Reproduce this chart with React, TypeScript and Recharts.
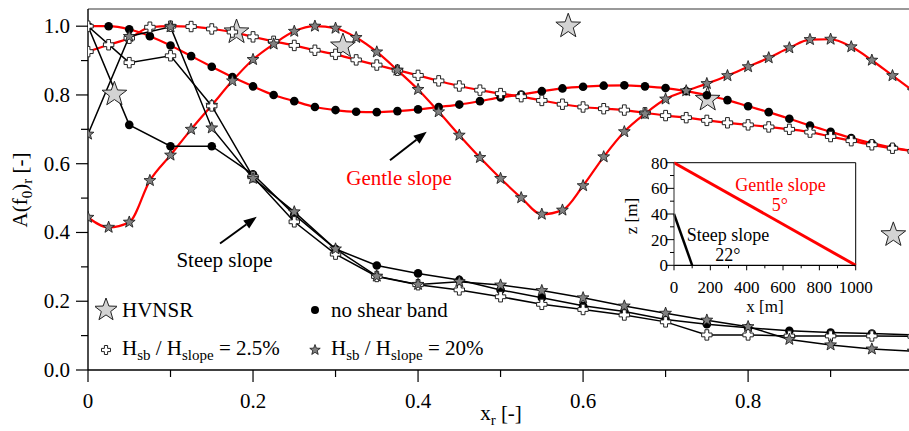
import React from 'react';
import {
  ComposedChart, LineChart, Line, Scatter, XAxis, YAxis,
  ReferenceLine, ReferenceDot, Legend,
} from 'recharts';

const FONT = '"Liberation Serif", "Times New Roman", serif';

// gentle slope runs, one marker every 0.025
const xGentle = [0, 0.025, 0.05, 0.075, 0.1, 0.125, 0.15, 0.175, 0.2, 0.225, 0.25, 0.275, 0.3, 0.325, 0.35, 0.375, 0.4, 0.425, 0.45, 0.475, 0.5, 0.525, 0.55, 0.575, 0.6, 0.625, 0.65, 0.675, 0.7, 0.725, 0.75, 0.775, 0.8, 0.825, 0.85, 0.875, 0.9, 0.925, 0.95, 0.975, 1.0];
const gentleNsb = [1.0, 1.0, 0.991, 0.971, 0.944, 0.913, 0.882, 0.852, 0.825, 0.800, 0.782, 0.765, 0.756, 0.751, 0.750, 0.753, 0.758, 0.765, 0.772, 0.782, 0.793, 0.801, 0.811, 0.819, 0.824, 0.827, 0.828, 0.825, 0.820, 0.811, 0.799, 0.785, 0.767, 0.750, 0.731, 0.711, 0.693, 0.675, 0.659, 0.647, 0.637];
const gentlePlus = [0.926, 0.946, 0.965, 0.997, 1.0, 0.999, 0.992, 0.983, 0.969, 0.956, 0.944, 0.930, 0.918, 0.902, 0.887, 0.872, 0.857, 0.841, 0.826, 0.814, 0.804, 0.795, 0.784, 0.773, 0.765, 0.760, 0.756, 0.748, 0.740, 0.734, 0.726, 0.719, 0.713, 0.707, 0.700, 0.692, 0.679, 0.667, 0.655, 0.645, 0.636];
const gentleStar = [0.444, 0.415, 0.430, 0.551, 0.625, 0.700, 0.770, 0.841, 0.903, 0.948, 0.985, 1.0, 0.994, 0.967, 0.925, 0.872, 0.816, 0.751, 0.683, 0.618, 0.557, 0.501, 0.453, 0.465, 0.536, 0.620, 0.693, 0.745, 0.788, 0.812, 0.833, 0.856, 0.882, 0.908, 0.937, 0.961, 0.962, 0.940, 0.901, 0.856, 0.812];

// steep slope runs, one marker every 0.05
const xSteep = [0, 0.05, 0.1, 0.15, 0.2, 0.25, 0.3, 0.35, 0.4, 0.45, 0.5, 0.55, 0.6, 0.65, 0.7, 0.75, 0.8, 0.85, 0.9, 0.95, 1.0];
const steepNsb = [1.0, 0.713, 0.651, 0.651, 0.569, 0.452, 0.352, 0.304, 0.281, 0.262, 0.233, 0.210, 0.187, 0.170, 0.147, 0.133, 0.123, 0.114, 0.109, 0.106, 0.102];
const steepPlus = [1.0, 0.894, 0.914, 0.768, 0.562, 0.431, 0.337, 0.272, 0.248, 0.233, 0.213, 0.191, 0.176, 0.160, 0.140, 0.102, 0.102, 0.099, 0.099, 0.099, 0.098];
const steepStar = [0.686, 0.970, 0.998, 0.704, 0.557, 0.460, 0.352, 0.273, 0.249, 0.257, 0.247, 0.231, 0.210, 0.186, 0.165, 0.145, 0.126, 0.089, 0.073, 0.061, 0.055];

// HVNSR measurements
const hvnsrX = [0.032, 0.180, 0.309, 0.582, 0.751, 0.976];
const hvnsrY = [0.802, 0.983, 0.942, 1.0, 0.787, 0.393];

const xTicks = [0, 0.1, 0.2, 0.3, 0.4, 0.5, 0.6, 0.7, 0.8, 0.9];
const yTicks = [0, 0.1, 0.2, 0.3, 0.4, 0.5, 0.6, 0.7, 0.8, 0.9, 1.0];

// inset: slope profiles
const profileX = [0, 1000];
const gentleProfileZ = [80, 0];
const steepProfileX = [0, 100];
const steepProfileZ = [40, 0];
const insetXTicks = [0, 100, 200, 300, 400, 500, 600, 700, 800, 900, 1000];
const insetYTicks = [0, 10, 20, 30, 40, 50, 60, 70, 80];

const pts = (xs: number[], ys: number[]) => xs.map((x, i) => ({ x, y: ys[i] }));

const starPath = (cx: number, cy: number, ro: number, ri: number) => {
  let d = '';
  for (let i = 0; i < 10; i++) {
    const r = i % 2 === 0 ? ro : ri;
    const a = -Math.PI / 2 + (i * Math.PI) / 5;
    d += (i === 0 ? 'M' : 'L') + (cx + r * Math.cos(a)).toFixed(2) + ',' + (cy + r * Math.sin(a)).toFixed(2);
  }
  return d + 'Z';
};

const plusPath = (cx: number, cy: number, a: number, b: number) =>
  `M${cx - b},${cy - a}H${cx + b}V${cy - b}H${cx + a}V${cy + b}H${cx + b}V${cy + a}H${cx - b}V${cy + b}H${cx - a}V${cy - b}H${cx - b}Z`;

const dotCircle = (p: any) => <circle key={`c${p.index}`} cx={p.cx} cy={p.cy} r={4.3} fill="#000" />;
const dotPlus = (p: any) => (
  <path key={`p${p.index}`} d={plusPath(p.cx, p.cy, 5.2, 1.9)} fill="#fff" stroke="#222" strokeWidth={1} />
);
const dotStar = (p: any) => (
  <path key={`s${p.index}`} d={starPath(p.cx, p.cy, 6.2, 2.6)} fill="#808080" stroke="#111" strokeWidth={0.8} />
);
const bigStar = (p: any) => <path d={starPath(p.cx, p.cy, 13, 5.3)} fill="#d3d3d3" stroke="#222" strokeWidth={1} />;

const Arrow = (p: any) => {
  const { x1, y1, x2, y2 } = p;
  const ang = Math.atan2(y2 - y1, x2 - x1);
  const L = 13;
  const W = 5;
  const bx = x2 - L * Math.cos(ang);
  const by = y2 - L * Math.sin(ang);
  const nx = -Math.sin(ang) * W;
  const ny = Math.cos(ang) * W;
  return (
    <g>
      <line x1={x1} y1={y1} x2={bx} y2={by} stroke="#000" strokeWidth={2} />
      <path d={`M${x2},${y2}L${bx + nx},${by + ny}L${bx - nx},${by - ny}Z`} fill="#000" />
    </g>
  );
};

const YTick = (p: any) => {
  const v = p.payload.value;
  const major = Math.round(v * 10) % 2 === 0;
  return (
    <g>
      <line x1={p.x - (major ? 12 : 7)} x2={p.x} y1={p.y} y2={p.y} stroke="#000" strokeWidth={1.2} />
      {major && (
        <text x={p.x - 18} y={p.y + 7} textAnchor="end" fontSize={21} fontFamily={FONT} fill="#000">
          {v.toFixed(1)}
        </text>
      )}
    </g>
  );
};

const XTick = (p: any) => {
  const v = p.payload.value;
  const major = Math.round(v * 10) % 2 === 0;
  return (
    <g>
      <line x1={p.x} x2={p.x} y1={p.y} y2={p.y + (major ? 12 : 7)} stroke="#000" strokeWidth={1.2} />
      {major && (
        <text x={p.x} y={p.y + 38} textAnchor="middle" fontSize={21} fontFamily={FONT} fill="#000">
          {v === 0 ? '0' : v.toFixed(1)}
        </text>
      )}
    </g>
  );
};

const InsetYTick = (p: any) => {
  const v = p.payload.value;
  const major = v % 20 === 0;
  return (
    <g>
      <line x1={p.x - (major ? 8 : 4)} x2={p.x} y1={p.y} y2={p.y} stroke="#000" strokeWidth={1} />
      {major && (
        <text x={p.x - 6} y={p.y + 6} textAnchor="end" fontSize={17} fontFamily={FONT} fill="#000">
          {v}
        </text>
      )}
    </g>
  );
};

const InsetXTick = (p: any) => {
  const v = p.payload.value;
  const major = v % 200 === 0;
  return (
    <g>
      <line x1={p.x} x2={p.x} y1={p.y} y2={p.y + (major ? 5 : 3)} stroke="#000" strokeWidth={1} />
      {major && (
        <text x={p.x} y={p.y + 28} textAnchor="middle" fontSize={17} fontFamily={FONT} fill="#000">
          {v}
        </text>
      )}
    </g>
  );
};

const YLabel = () => (
  <text transform="rotate(-90, 27, 190)" x={27} y={190} textAnchor="middle" fontSize={21} fontFamily={FONT} fill="#000">
    A(f<tspan fontSize={15} dy={5}>0</tspan>
    <tspan dy={-5}>)</tspan>
    <tspan fontSize={15} dy={5}>r</tspan>
    <tspan dy={-5}> [-]</tspan>
  </text>
);

const XLabel = () => (
  <text x={501} y={420} textAnchor="middle" fontSize={21} fontFamily={FONT} fill="#000">
    x<tspan fontSize={15} dy={5}>r</tspan>
    <tspan dy={-5}> [-]</tspan>
  </text>
);

// inset chart coordinates (its svg starts at page 610,150)
const InsetXLabel = () => (
  <text x={155} y={161.5} textAnchor="middle" fontSize={17} fontFamily={FONT} fill="#000">x [m]</text>
);

const InsetYLabel = () => (
  <text transform="rotate(-90, 27, 66)" x={27} y={66} textAnchor="middle" fontSize={17} fontFamily={FONT} fill="#000">z [m]</text>
);

const Icon = ({ kind }: { kind: string }) => (
  <svg width={22} height={30} style={{ flex: 'none' }}>
    {kind === 'hvnsr' && <path d={starPath(11, 15, 12, 4.9)} fill="#d3d3d3" stroke="#222" />}
    {kind === 'nsb' && <circle cx={11} cy={15} r={4} fill="#000" />}
    {kind === 'plus' && <path d={plusPath(11, 15, 4.5, 1.6)} fill="#fff" stroke="#222" />}
    {kind === 'star' && <path d={starPath(11, 15, 5.5, 2.3)} fill="#808080" stroke="#111" strokeWidth={0.8} />}
  </svg>
);

const Ratio = ({ pct }: { pct: string }) => (
  <span>
    H<sub style={{ fontSize: 15 }}>sb</sub> / H<sub style={{ fontSize: 15 }}>slope</sub> = {pct}
  </span>
);

const LegendBox = () => {
  const items = [
    { kind: 'hvnsr', label: <span>HVNSR</span> },
    { kind: 'nsb', label: <span>no shear band</span> },
    { kind: 'plus', label: <Ratio pct="2.5%" /> },
    { kind: 'star', label: <Ratio pct="20%" /> },
  ];
  return (
    <div style={{ display: 'grid', gridTemplateColumns: '209px 220px', gridAutoRows: '40px', fontFamily: FONT, fontSize: 21, color: '#000' }}>
      {items.map((it) => (
        <div key={it.kind} style={{ display: 'flex', alignItems: 'center', gap: 5, whiteSpace: 'nowrap' }}>
          <Icon kind={it.kind} />
          {it.label}
        </div>
      ))}
    </div>
  );
};

const App = () => {
  return (
    <div style={{ position: 'absolute', left: 0, top: 0, width: 909, height: 431, background: '#fff', overflow: 'hidden' }}>
      <div style={{ position: 'absolute', left: 0, top: 0 }}>
        <ComposedChart width={909} height={431} margin={{ top: 9, right: 0, bottom: 0, left: 0 }}>
          <XAxis
            type="number" dataKey="x" domain={[0, 0.995]} allowDataOverflow ticks={xTicks} interval={0}
            height={61} tickSize={0} tickMargin={0} tickLine={false} tick={<XTick />}
            axisLine={{ stroke: '#000', strokeWidth: 1.4 }} label={<XLabel />}
          />
          <YAxis
            type="number" domain={[0, 1.05]} allowDataOverflow ticks={yTicks} interval={0}
            width={88} tickSize={0} tickMargin={0} tickLine={false} tick={<YTick />}
            axisLine={{ stroke: '#000', strokeWidth: 1.4 }} label={<YLabel />}
          />
          <ReferenceLine y={1.05} stroke="#777" strokeWidth={1.6} />
          <Line data={pts(xGentle, gentleNsb)} dataKey="y" type="monotone" stroke="#ff0000" strokeWidth={2.2} dot={dotCircle} isAnimationActive={false} />
          <Line data={pts(xGentle, gentlePlus)} dataKey="y" type="monotone" stroke="#ff0000" strokeWidth={2.2} dot={dotPlus} isAnimationActive={false} />
          <Line data={pts(xGentle, gentleStar)} dataKey="y" type="monotone" stroke="#ff0000" strokeWidth={2.2} dot={dotStar} isAnimationActive={false} />
          <Line data={pts(xSteep, steepNsb)} dataKey="y" type="linear" stroke="#000" strokeWidth={1.5} dot={dotCircle} isAnimationActive={false} />
          <Line data={pts(xSteep, steepPlus)} dataKey="y" type="linear" stroke="#000" strokeWidth={1.5} dot={dotPlus} isAnimationActive={false} />
          <Line data={pts(xSteep, steepStar)} dataKey="y" type="linear" stroke="#000" strokeWidth={1.5} dot={dotStar} isAnimationActive={false} />
          <Scatter data={pts(hvnsrX, hvnsrY)} dataKey="y" shape={bigStar} isAnimationActive={false} />
          <ReferenceLine segment={[{ x: 0.366, y: 0.61 }, { x: 0.4105, y: 0.693 }]} shape={Arrow} />
          <ReferenceLine segment={[{ x: 0.16, y: 0.368 }, { x: 0.2045, y: 0.4456 }]} shape={Arrow} />
          <ReferenceDot x={0.377} y={0.561} r={0} fill="none" stroke="none"
            label={{ value: 'Gentle slope', position: 'center', fill: '#ff0000', fontSize: 21, fontFamily: FONT }} />
          <ReferenceDot x={0.1655} y={0.32} r={0} fill="none" stroke="none"
            label={{ value: 'Steep slope', position: 'center', fill: '#000', fontSize: 21, fontFamily: FONT }} />
          <Legend
            layout="vertical" align="center" verticalAlign="middle" content={<LegendBox />}
            wrapperStyle={{ left: 95, top: 290, width: 440, height: 80 }}
          />
        </ComposedChart>
      </div>
      <div style={{ position: 'absolute', left: 610, top: 150 }}>
        <LineChart width={290} height={170} margin={{ top: 12.7, right: 44.3, bottom: 0, left: 0 }}>
          <XAxis
            type="number" dataKey="x" domain={[0, 1000]} ticks={insetXTicks} interval={0} height={54.7}
            tickSize={0} tickMargin={0} tickLine={false} tick={<InsetXTick />} axisLine={{ stroke: '#000', strokeWidth: 1.2 }}
            label={<InsetXLabel />}
          />
          <YAxis
            type="number" domain={[0, 80]} ticks={insetYTicks} interval={0} width={64}
            tickSize={0} tickMargin={0} tickLine={false} tick={<InsetYTick />} axisLine={{ stroke: '#666', strokeWidth: 1.4 }}
            label={<InsetYLabel />}
          />
          <ReferenceLine y={80} stroke="#000" strokeWidth={1} />
          <ReferenceLine x={1000} stroke="#000" strokeWidth={1} />
          <Line data={pts(profileX, gentleProfileZ)} dataKey="y" type="linear" stroke="#ff0000" strokeWidth={3} dot={false} isAnimationActive={false} />
          <Line data={pts(steepProfileX, steepProfileZ)} dataKey="y" type="linear" stroke="#000" strokeWidth={2.5} dot={false} isAnimationActive={false} />
          <ReferenceDot x={586} y={62.6} r={0} fill="none" stroke="none"
            label={{ value: 'Gentle slope', position: 'center', fill: '#ff0000', fontSize: 18, fontFamily: FONT }} />
          <ReferenceDot x={583} y={47} r={0} fill="none" stroke="none"
            label={{ value: '5°', position: 'center', fill: '#ff0000', fontSize: 18, fontFamily: FONT }} />
          <ReferenceDot x={297} y={23.6} r={0} fill="none" stroke="none"
            label={{ value: 'Steep slope', position: 'center', fill: '#000', fontSize: 18, fontFamily: FONT }} />
          <ReferenceDot x={297} y={8} r={0} fill="none" stroke="none"
            label={{ value: '22°', position: 'center', fill: '#000', fontSize: 18, fontFamily: FONT }} />
        </LineChart>
      </div>
    </div>
  );
};

export default App;
